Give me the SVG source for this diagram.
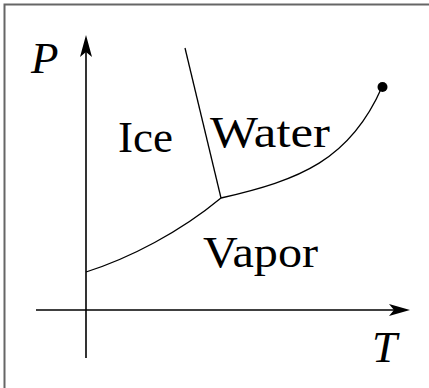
<svg xmlns="http://www.w3.org/2000/svg" width="429" height="388" viewBox="0 0 429 388">
<style>
.frame{stroke:#666;stroke-width:2;fill:none}
.axis{stroke:#000;stroke-width:1.6;fill:none}
.curve{stroke:#000;stroke-width:1.3;fill:none}
.head{fill:#000;stroke:none}
.lbl{font-family:"Liberation Serif","Times New Roman",serif;font-size:45px;fill:#000}
.var{font-family:"Liberation Serif","Times New Roman",serif;font-size:45px;font-style:italic;fill:#000}
</style>
<rect width="429" height="388" fill="#fff"/>
<path class="frame" d="M4.5,388 V4.5 H429"/>
<g id="axes">
<path class="axis" d="M86,358 V40"/>
<path class="axis" d="M36,310 H404"/>
<path class="head" d="M86,35 L92,57 L86,52 L80,57 Z"/>
<path class="head" d="M410,310 L389,316 L394,310 L389,304 Z"/>
</g>
<g id="connectors">
<path class="curve" d="M185,48 L221,198"/>
<path class="curve" d="M86,272 C130,258 180,232 221,198"/>
<path class="curve" d="M221,198 C300,180 350,160 382,87"/>
</g>
<g id="critical-point"><circle cx="382.5" cy="87" r="5" fill="#000"/></g>
<g id="label-P"><text class="var" x="31" y="73">P</text></g>
<g id="label-T"><text class="var" x="372" y="362">T</text></g>
<g id="ice"><text class="lbl" x="118" y="152" textLength="55" lengthAdjust="spacingAndGlyphs">Ice</text></g>
<g id="water"><text class="lbl" x="210" y="147" textLength="120" lengthAdjust="spacingAndGlyphs">Water</text></g>
<g id="vapor"><text class="lbl" x="203" y="267" textLength="115" lengthAdjust="spacingAndGlyphs">Vapor</text></g>
</svg>
